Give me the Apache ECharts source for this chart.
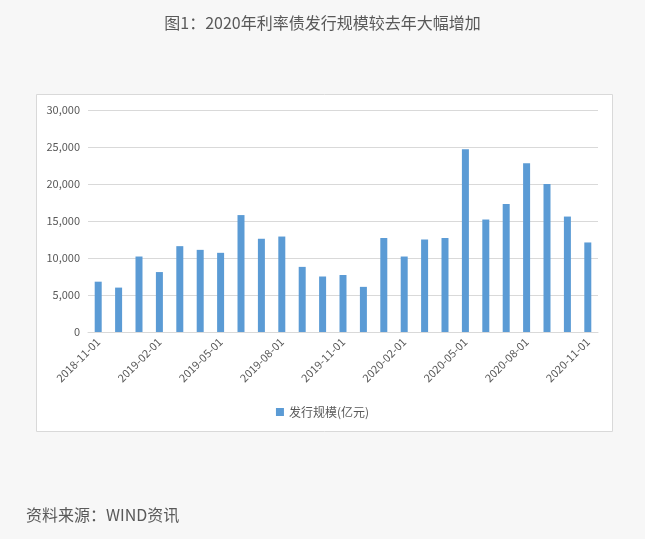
<!DOCTYPE html>
<html>
<head>
<meta charset="UTF-8">
<title>利率债发行规模</title>
<script src="https://cdn.jsdelivr.net/npm/echarts@6/dist/echarts.min.js"></script>
<style>
  html, body { margin: 0; padding: 0; background: #f7f7f7; }
</style>
</head>
<body>
<div id="main" style="width: 645px;height:539px;"></div>
<script type="text/javascript">
        // 月份（每月1日）
        var months = [
            '2018-11-01', '2018-12-01', '2019-01-01', '2019-02-01', '2019-03-01',
            '2019-04-01', '2019-05-01', '2019-06-01', '2019-07-01', '2019-08-01',
            '2019-09-01', '2019-10-01', '2019-11-01', '2019-12-01', '2020-01-01',
            '2020-02-01', '2020-03-01', '2020-04-01', '2020-05-01', '2020-06-01',
            '2020-07-01', '2020-08-01', '2020-09-01', '2020-10-01', '2020-11-01'
        ];
        // 发行规模(亿元)
        var issueSize = [
            6800, 6000, 10200, 8100, 11600,
            11100, 10700, 15800, 12600, 12900,
            8800, 7500, 7700, 6100, 12700,
            10200, 12500, 12700, 24700, 15200,
            17300, 22800, 20000, 15600, 12100
        ];
        var yTicks = [0, 5000, 10000, 15000, 20000, 25000, 30000];

        var myChart = echarts.init(document.getElementById('main'));
        var font = '"Noto Sans CJK SC", "Microsoft YaHei", sans-serif';

        myChart.setOption({
            backgroundColor: '#f7f7f7',
            textStyle: { fontFamily: font },
            title: [{
                text: '图1：2020年利率债发行规模较去年大幅增加',
                left: 'center',
                top: 10,
                textStyle: { fontSize: 16, fontWeight: 'normal', color: '#595959', fontFamily: font }
            }, {
                text: '资料来源：WIND资讯',
                left: 21,
                top: 502,
                textStyle: { fontSize: 16, fontWeight: 'normal', color: '#595959', fontFamily: font }
            }],
            graphic: [{
                type: 'rect',
                z: -10,
                shape: { x: 36.5, y: 94.5, width: 576, height: 337 },
                style: { fill: '#fff', stroke: '#d9d9d9', lineWidth: 1 }
            }],
            legend: {
                bottom: 116,
                left: 'center',
                itemWidth: 8,
                itemHeight: 8,
                itemGap: 4,
                icon: 'rect',
                textStyle: { fontSize: 12, color: '#595959', fontFamily: font },
                data: ['发行规模(亿元)']
            },
            grid: { left: 88, right: 47, top: 110, bottom: 207 },
            xAxis: {
                type: 'category',
                data: months,
                axisLine: { lineStyle: { color: '#d9d9d9' } },
                axisTick: { show: false },
                axisLabel: {
                    interval: 2,
                    rotate: 45,
                    fontSize: 11,
                    color: '#595959',
                    margin: 8
                }
            },
            yAxis: {
                type: 'value',
                min: yTicks[0],
                max: yTicks[yTicks.length - 1],
                interval: 5000,
                axisLine: { show: false },
                axisTick: { show: false },
                splitLine: { lineStyle: { color: '#d9d9d9' } },
                axisLabel: {
                    fontSize: 11,
                    color: '#595959',
                    margin: 8,
                    formatter: function (v) { return v.toLocaleString('en-US'); }
                }
            },
            series: [{
                name: '发行规模(亿元)',
                type: 'bar',
                data: issueSize,
                barWidth: 7,
                itemStyle: { color: '#5b9bd5' }
            }]
        });
</script>
</body>
</html>
